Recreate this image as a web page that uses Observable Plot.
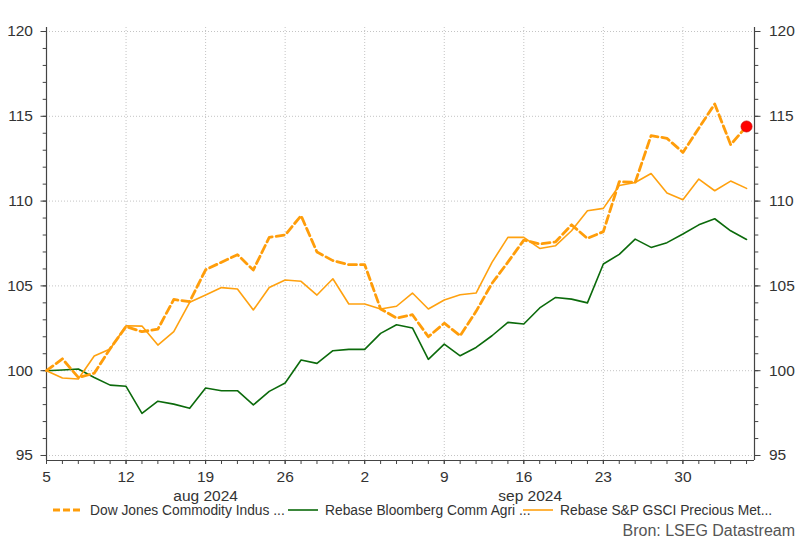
<!DOCTYPE html>
<html>
<head>
<meta charset="utf-8">
<script src="https://cdn.jsdelivr.net/npm/d3@7"></script>
<script src="https://cdn.jsdelivr.net/npm/@observablehq/plot@0.6"></script>
<style>
  html, body { margin: 0; padding: 0; background: #fff; overflow: hidden; }
  #wrap { position: relative; width: 800px; height: 540px; font-family: "Liberation Sans", Arial, sans-serif; }
  #wrap > svg.plot { position: absolute; left: 0; top: 0; }
  .leg { position: absolute; font-size: 13.8px; color: #333; white-space: nowrap; line-height: 15px; }
  .sw { position: absolute; }
  #cap { position: absolute; right: 5px; top: 522px; font-size: 16px; color: #555; line-height: 18px; }
</style>
</head>
<body>
<div id="wrap"></div>
<script>
// Trading days (business days) 5 Aug 2024 .. 4 Oct 2024
const tradingDays = [
  "2024-08-05","2024-08-06","2024-08-07","2024-08-08","2024-08-09",
  "2024-08-12","2024-08-13","2024-08-14","2024-08-15","2024-08-16",
  "2024-08-19","2024-08-20","2024-08-21","2024-08-22","2024-08-23",
  "2024-08-26","2024-08-27","2024-08-28","2024-08-29","2024-08-30",
  "2024-09-02","2024-09-03","2024-09-04","2024-09-05","2024-09-06",
  "2024-09-09","2024-09-10","2024-09-11","2024-09-12","2024-09-13",
  "2024-09-16","2024-09-17","2024-09-18","2024-09-19","2024-09-20",
  "2024-09-23","2024-09-24","2024-09-25","2024-09-26","2024-09-27",
  "2024-09-30","2024-10-01","2024-10-02","2024-10-03","2024-10-04"
];

const seriesNames = [
  "Dow Jones Commodity Indus ...",
  "Rebase Bloomberg Comm Agri ...",
  "Rebase S&P GSCI Precious Met..."
];

const dowJones = [100, 100.7, 99.6, 99.85, 101.3, 102.6, 102.3, 102.45, 104.2, 104.07,
  105.95, 106.4, 106.84, 105.94, 107.86, 108.0, 109.14, 107.0, 106.49, 106.25,
  106.25, 103.64, 103.1, 103.3, 102.0, 102.8, 102.06, 103.5, 105.15, 106.4,
  107.7, 107.47, 107.6, 108.6, 107.8, 108.2, 111.15, 111.1, 113.86, 113.7,
  112.87, 114.3, 115.73, 113.33, 114.4];

const bloombergAgri = [100, 100.04, 100.1, 99.6, 99.15, 99.08, 97.48, 98.2, 98.03, 97.78,
  98.98, 98.82, 98.82, 97.98, 98.78, 99.27, 100.63, 100.43, 101.18, 101.26,
  101.26, 102.2, 102.71, 102.52, 100.67, 101.57, 100.88, 101.37, 102.06, 102.85,
  102.75, 103.7, 104.32, 104.22, 104.0, 106.29, 106.86, 107.76, 107.27, 107.55,
  108.06, 108.6, 108.96, 108.25, 107.74];

const gsciPrecious = [100, 99.57, 99.51, 100.87, 101.28, 102.65, 102.63, 101.51, 102.3, 104.03,
  104.46, 104.9, 104.82, 103.58, 104.91, 105.35, 105.27, 104.46, 105.42, 103.93,
  103.93, 103.64, 103.8, 104.58, 103.64, 104.17, 104.48, 104.58, 106.39, 107.86,
  107.86, 107.21, 107.37, 108.25, 109.43, 109.57, 110.92, 111.1, 111.63, 110.48,
  110.08, 111.3, 110.61, 111.18, 110.75];

const weekTickIndex = [0, 5, 10, 15, 20, 25, 30, 35, 40];
const weekTickLabels = ["5", "12", "19", "26", "2", "9", "16", "23", "30"];
const monthLabels = ["aug 2024", "sep 2024"];
const monthLabelIndex = [10, 30.4];
const yMajorTicks = [95, 100, 105, 110, 115, 120];
const yMinorTicks = d3.range(95, 121);

const xDomain = [0, 44.5];
const yDomain = [94.705, 120.236];

const colors = { dj: "#FF9D0A", agri: "#0B6A0B", pm: "#FFA10F", dot: "#FF0000" };

const rows = tradingDays.map((d, i) => ({
  i, date: d, dj: dowJones[i], agri: bloombergAgri[i], pm: gsciPrecious[i]
}));

const weekLabelMap = new Map(weekTickIndex.map((v, k) => [v, weekTickLabels[k]]));
const monthLabelMap = new Map(monthLabelIndex.map((v, k) => [v, monthLabels[k]]));
const yFmt = d => String(d);

const axisColor = "#444";
const textColor = "#333";
const gridStyle = { stroke: "#c4c4c4", strokeOpacity: 1, strokeDasharray: "1,2", strokeWidth: 1 };

const chart = Plot.plot({
  width: 800,
  height: 540,
  marginLeft: 46,
  marginRight: 46,
  marginTop: 27,
  marginBottom: 80,
  style: { fontFamily: "'Liberation Sans', Arial, sans-serif", fontSize: "15px", color: textColor, background: "#fff" },
  x: { domain: xDomain, label: null },
  y: { domain: yDomain, label: null },
  marks: [
    Plot.gridY(yMajorTicks, gridStyle),
    Plot.gridX(weekTickIndex, gridStyle),
    // axis lines
    Plot.ruleX(xDomain, { stroke: axisColor, strokeWidth: 1.2 }),
    Plot.ruleY([yDomain[0]], { stroke: axisColor, strokeWidth: 1.2 }),
    // y minor ticks
    Plot.axisY(yMinorTicks, { anchor: "left", tickSize: 3.3, tickFormat: () => "", stroke: axisColor, label: null }),
    Plot.axisY(yMinorTicks, { anchor: "right", tickSize: 3.3, tickFormat: () => "", stroke: axisColor, label: null }),
    // y major ticks + labels
    Plot.axisY(yMajorTicks, { anchor: "left", tickSize: 5.5, tickPadding: 8, tickFormat: yFmt, stroke: axisColor, fill: textColor, fontSize: 15.5, label: null }),
    Plot.axisY(yMajorTicks, { anchor: "right", tickSize: 5.5, tickPadding: 9, tickFormat: yFmt, stroke: axisColor, fill: textColor, fontSize: 15.5, label: null }),
    // x ticks every trading day
    Plot.axisX(d3.range(0, tradingDays.length), { anchor: "bottom", tickSize: 4, tickFormat: () => "", stroke: axisColor, label: null }),
    Plot.axisX(weekTickIndex, { anchor: "bottom", tickSize: 4, tickPadding: 6.5, tickFormat: d => weekLabelMap.get(d), stroke: axisColor, fill: textColor, fontSize: 15.5, label: null }),
    Plot.axisX(monthLabelIndex, { anchor: "bottom", tickSize: 0, tickPadding: 29, tickFormat: d => monthLabelMap.get(d), fill: textColor, fontSize: 15.5, label: null }),
    // series
    Plot.line(rows, { x: "i", y: "agri", stroke: colors.agri, strokeWidth: 1.6 }),
    Plot.line(rows, { x: "i", y: "pm", stroke: colors.pm, strokeWidth: 1.6 }),
    Plot.line(rows, { x: "i", y: "dj", stroke: colors.dj, strokeWidth: 2.8, strokeDasharray: "8,4" }),
    Plot.dot([rows[rows.length - 1]], { x: "i", y: "dj", r: 5.5, fill: colors.dot, stroke: "#d00000", strokeWidth: 0.8 })
  ]
});
chart.classList.add("plot");

const wrap = document.getElementById("wrap");
wrap.appendChild(chart);

// Legend (HTML, below the plotting area)
const legendItems = [
  { name: seriesNames[0], color: colors.dj, dash: "7,3", width: 2.8, swLeft: 53, swW: 27, textLeft: 90 },
  { name: seriesNames[1], color: colors.agri, dash: null, width: 1.6, swLeft: 288, swW: 30, textLeft: 325 },
  { name: seriesNames[2], color: colors.pm, dash: null, width: 1.6, swLeft: 523, swW: 30, textLeft: 560 }
];
legendItems.forEach(it => {
  const sw = document.createElementNS("http://www.w3.org/2000/svg", "svg");
  sw.setAttribute("class", "sw");
  sw.setAttribute("width", it.swW);
  sw.setAttribute("height", 8);
  sw.style.left = it.swLeft + "px";
  sw.style.top = "506px";
  const ln = document.createElementNS("http://www.w3.org/2000/svg", "line");
  ln.setAttribute("x1", 0); ln.setAttribute("x2", it.swW);
  ln.setAttribute("y1", 4); ln.setAttribute("y2", 4);
  ln.setAttribute("stroke", it.color);
  ln.setAttribute("stroke-width", it.width);
  if (it.dash) ln.setAttribute("stroke-dasharray", it.dash);
  sw.appendChild(ln);
  wrap.appendChild(sw);
  const t = document.createElement("div");
  t.className = "leg";
  t.style.left = it.textLeft + "px";
  t.style.top = "503px";
  t.textContent = it.name;
  wrap.appendChild(t);
});

const cap = document.createElement("div");
cap.id = "cap";
cap.textContent = "Bron: LSEG Datastream";
wrap.appendChild(cap);
</script>
</body>
</html>
